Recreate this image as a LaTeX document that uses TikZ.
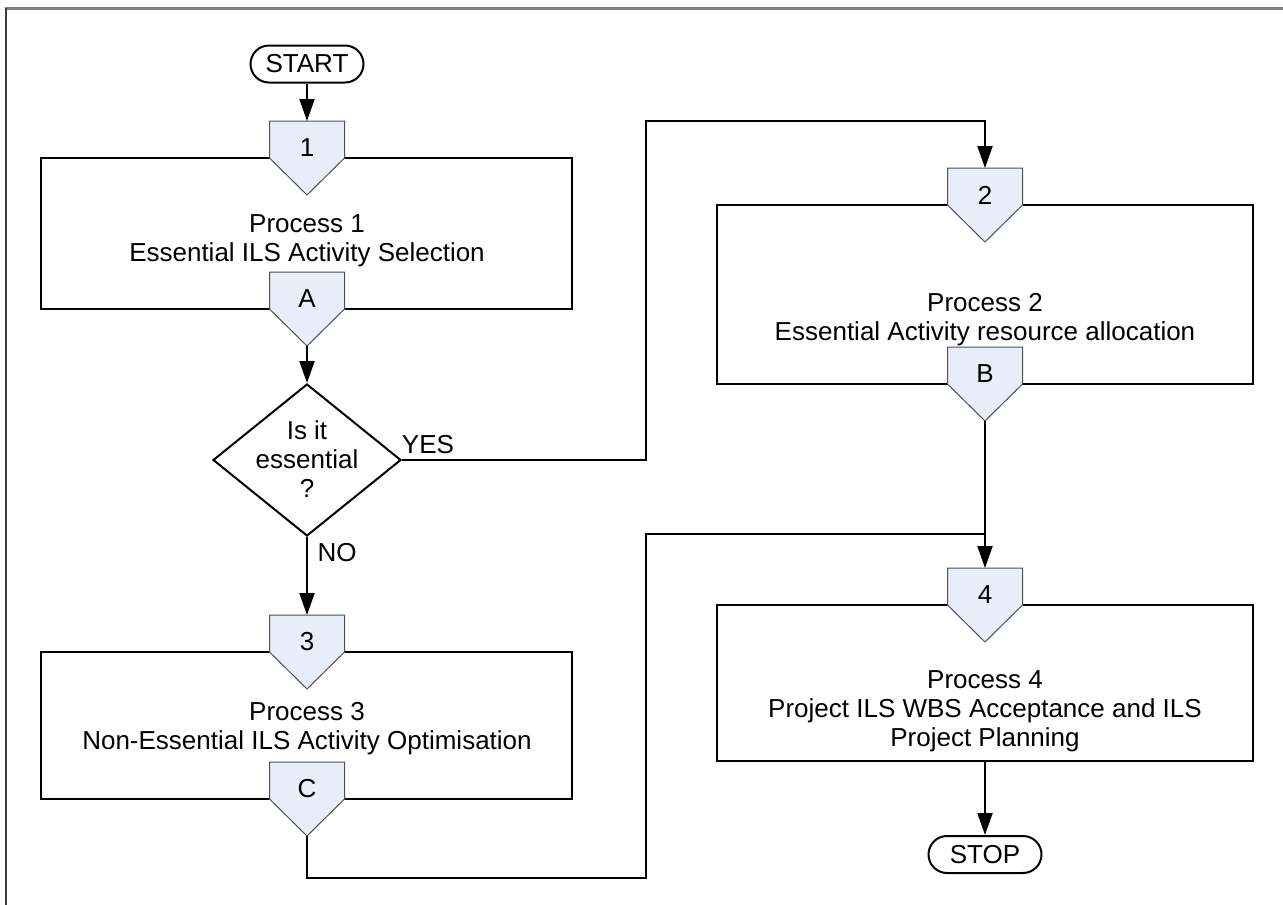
\documentclass[tikz,border=0pt]{standalone}
\usepackage{fontspec}
\setmainfont{Liberation Sans}
\usetikzlibrary{arrows.meta,shapes.geometric}
\definecolor{pentblue}{RGB}{232,238,247}
\definecolor{pentline}{RGB}{80,80,80}
\newcommand{\offpage}[4]{%
  \path[pentshape] (#2-37.5,#3) -- (#2+37.5,#3) -- (#2+37.5,#3+37) -- (#2,#3+74) -- (#2-37.5,#3+37) -- cycle;
  \node[txt] (#1) at (#2,#3+27) {#4};
  \coordinate (#1top) at (#2,#3);
  \coordinate (#1tip) at (#2,#3+74);
}
\begin{document}
\begin{tikzpicture}[x=1pt,y=-1pt,
  txt/.style={font=\fontsize{26}{29}\selectfont, align=center, inner sep=0pt},
  procbox/.style={draw=black, line width=2pt, fill=white, inner sep=0pt},
  pentshape/.style={draw=pentline, line width=1pt, fill=pentblue},
  term/.style={draw=black, line width=2pt, rounded corners=18.5pt, minimum height=37pt, minimum width=113pt, inner sep=0pt, font=\fontsize{26}{29}\selectfont},
  conn/.style={draw=black, line width=2pt},
  arr/.style={conn, -{Triangle[length=22pt,width=15pt]}}
]
\useasboundingbox (0,0) rectangle (1283,905);
% frame
\draw[draw={rgb,255:red,128;green,128;blue,128}, line width=3pt] (5,8) -- (1283,8);
\draw[draw={rgb,255:red,60;green,60;blue,60}, line width=2pt] (6,8) -- (6,905);

% process boxes
\node[procbox, minimum width=531pt, minimum height=151pt] (p1box) at (306.5,233.5) {};
\node[procbox, minimum width=536pt, minimum height=179pt] (p2box) at (985,294.5) {};
\node[procbox, minimum width=531pt, minimum height=147pt] (p3box) at (306.5,725.5) {};
\node[procbox, minimum width=536pt, minimum height=156pt] (p4box) at (985,683) {};

% off-page connectors
\offpage{o1}{307}{121}{1}
\offpage{oA}{307}{272}{A}
\offpage{o2}{985}{168}{2}
\offpage{oB}{985}{347}{B}
\offpage{o3}{307}{615}{3}
\offpage{oC}{307}{762}{C}
\offpage{o4}{985}{568}{4}

% process texts
\node[txt] (p1text) at (307,241) {Process 1\\Essential ILS Activity Selection};
\node[txt] (p2text) at (985,320) {Process 2\\Essential Activity resource allocation};
\node[txt] (p3text) at (307,729) {Process 3\\Non-Essential ILS Activity Optimisation};
\node[txt] (p4text) at (985,711) {Process 4\\Project ILS WBS Acceptance and ILS\\Project Planning};

% terminals
\node[term] (start) at (307,64) {START};
\node[term] (stop) at (985,854.5) {STOP};

% decision
\node[diamond, draw=black, line width=2pt, minimum width=188pt, minimum height=152pt, inner sep=0pt] (dec) at (307,460) {};
\node[txt] (dectext) at (307,459) {Is it\\essential\\?};

% labels
\node[txt] (yes) at (428,445) {YES};
\node[txt] (no) at (337,553) {NO};

% coordinates
\coordinate (ya) at (646,460);
\coordinate (yb) at (646,121);
\coordinate (ca) at (646,878);
\coordinate (jn) at (985,534);

% connectors
\draw[arr] (start.south) -- (o1top);
\draw[arr] (oAtip) -- (dec.north);
\draw[arr] (dec.east) -- (ya) -- (yb) -| (o2top);
\draw[arr] (dec.south) -- (o3top);
\draw[arr] (oBtip) -- (o4top);
\draw[conn] (oCtip) |- (ca) |- (jn);
\draw[arr] (p4box.south) -- (stop.north);
\end{tikzpicture}
\end{document}
